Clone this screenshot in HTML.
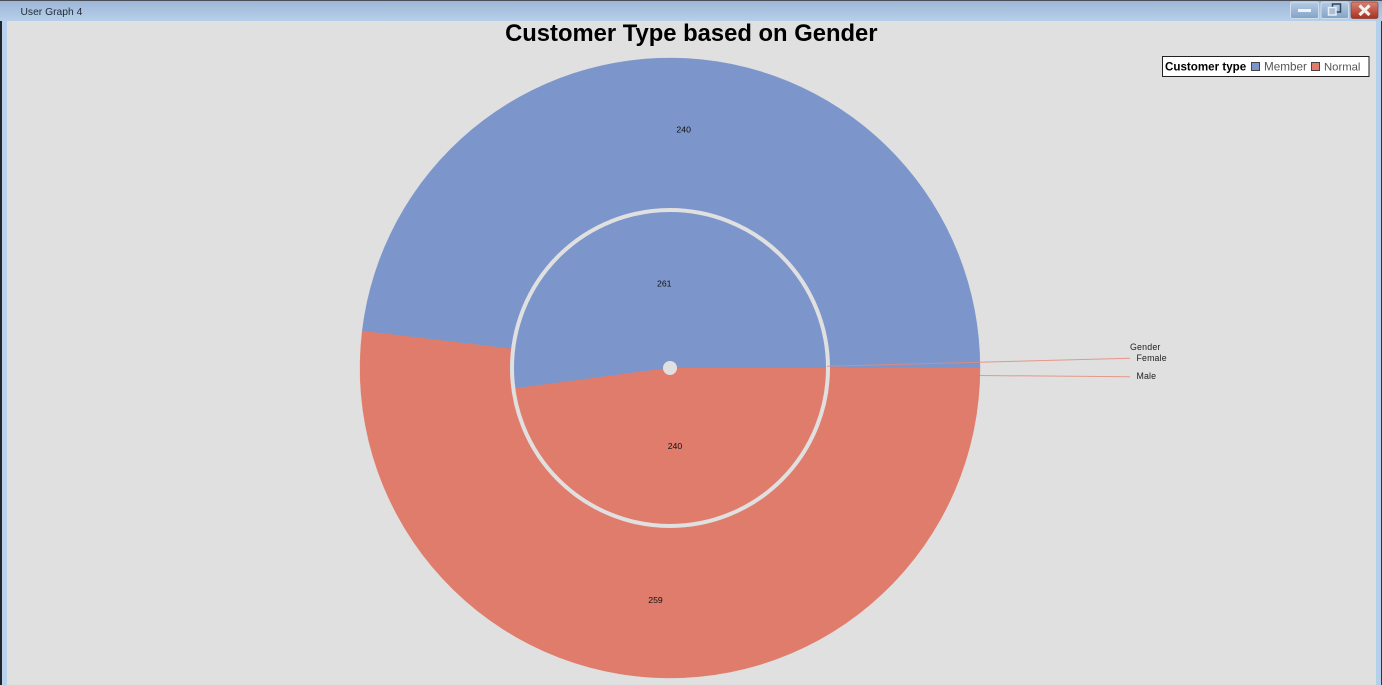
<!DOCTYPE html>
<html lang="en">
<head>
<meta charset="utf-8">
<title>User Graph 4</title>
<style>
html,body{margin:0;padding:0;width:1382px;height:685px;overflow:hidden;background:#e0e0e0;}
svg{display:block;font-family:"Liberation Sans",sans-serif;}
</style>
</head>
<body>
<svg id="chart" width="1382" height="685" viewBox="0 0 1382 685" xmlns="http://www.w3.org/2000/svg">
  <defs>
    <linearGradient id="barGrad" x1="0" y1="0" x2="0" y2="1">
      <stop offset="0" stop-color="#9cb5d6"/>
      <stop offset="1" stop-color="#b6d0ea"/>
    </linearGradient>
    <linearGradient id="btnGrad" x1="0" y1="0" x2="0" y2="1">
      <stop offset="0" stop-color="#b4cbe3"/>
      <stop offset="1" stop-color="#83a3c6"/>
    </linearGradient>
    <linearGradient id="closeGrad" x1="0" y1="0" x2="0" y2="1">
      <stop offset="0" stop-color="#d98272"/>
      <stop offset="1" stop-color="#a8301f"/>
    </linearGradient>
  </defs>

  <rect x="0" y="0" width="1382" height="685" fill="#e0e0e0"/>

  <rect x="0" y="21" width="2" height="664" fill="#22262b"/>
  <rect x="2" y="21" width="5" height="664" fill="#b9d3ee"/>
  <rect x="1376" y="21" width="5" height="664" fill="#b4d0ea"/>
  <rect x="1381" y="21" width="1" height="664" fill="#1c3a55"/>

  <rect x="0" y="0" width="1382" height="21" fill="url(#barGrad)"/>
  <rect x="0" y="0" width="1382" height="1" fill="#4a4f57"/>
  <text x="20.5" y="15" font-size="10.3" fill="#1e2a3a">User Graph 4</text>

  <g>
    <rect x="1290.5" y="2" width="28" height="16.5" rx="2" fill="url(#btnGrad)" stroke="#e2ebf4" stroke-opacity=".7"/>
    <rect x="1298" y="9" width="13" height="3" fill="#eef3f8"/>
  </g>
  <g>
    <rect x="1321" y="2" width="27.5" height="16.5" rx="2" fill="url(#btnGrad)" stroke="#e2ebf4" stroke-opacity=".7"/>
    <rect x="1332.5" y="4" width="8" height="8" fill="none" stroke="#33465c" stroke-width="1.5"/>
    <rect x="1328.5" y="7.5" width="7.5" height="7.5" fill="#a8c0da" stroke="#e8eef5" stroke-width="1.5"/>
  </g>
  <g>
    <rect x="1351" y="2" width="27" height="16.5" rx="2" fill="url(#closeGrad)" stroke="#8a3326" stroke-opacity=".6"/>
    <path d="M1359.5 5.5 L1369.5 15 M1369.5 5.5 L1359.5 15" stroke="#f3f0ee" stroke-width="3.2" fill="none"/>
  </g>

  <text x="691.3" y="41" font-size="23.8" font-weight="bold" text-anchor="middle" fill="#000">Customer Type based on Gender</text>

  <g id="plot"></g>

  <g>
    <rect x="1162.5" y="56.5" width="206.5" height="20" fill="#fff" stroke="#222" stroke-width="1"/>
    <text x="1165" y="70.5" font-size="11.6" font-weight="bold" fill="#000">Customer type</text>
    <rect x="1251.5" y="62.5" width="8" height="8" fill="#7c96cb" stroke="#444" stroke-width="1"/>
    <text x="1264" y="70.5" font-size="11.7" fill="#555">Member</text>
    <rect x="1311.5" y="62.5" width="8" height="8" fill="#e07c6b" stroke="#444" stroke-width="1"/>
    <text x="1324" y="70.5" font-size="11.3" fill="#555">Normal</text>
  </g>

  <text x="1130" y="350" font-size="8.8" letter-spacing=".2" fill="#222">Gender</text>
  <line x1="827" y1="366.3" x2="1130" y2="358.3" stroke="#e58a7b" stroke-opacity=".85" stroke-width="1"/>
  <text x="1136.5" y="361" font-size="8.8" letter-spacing=".15" fill="#222">Female</text>
  <line x1="980" y1="375.5" x2="1130" y2="376.8" stroke="#e58a7b" stroke-opacity=".85" stroke-width="1"/>
  <text x="1136.5" y="379" font-size="8.8" letter-spacing=".15" fill="#222">Male</text>
</svg>

<script>
const genders = ["Male", "Female"];
const customerTypes = ["Member", "Normal"];
const memberCounts = [240, 261];
const normalCounts = [259, 240];

const NS = "http://www.w3.org/2000/svg";
const plot = document.getElementById("plot");
const cx = 670, cy = 368;
const rings = [
  { inner: 159, outer: 310, labelR: 235.5 },
  { inner: 0, outer: 159, labelR: 81.5 }
];
const colors = ["#7c96cb", "#e07c6b"];

function angleScale(value, total) { return value / total * 2 * Math.PI; }
function px(r, a) { return cx + r * Math.cos(a); }
function py(r, a) { return cy - r * Math.sin(a); }

function slicePath(rIn, rOut, a0, a1) {
  const large = a1 - a0 > Math.PI ? 1 : 0;
  let d = "M" + px(rOut, a0) + " " + py(rOut, a0) +
    " A" + rOut + " " + rOut + " 0 " + large + " 0 " + px(rOut, a1) + " " + py(rOut, a1);
  if (rIn > 0) {
    d += " L" + px(rIn, a1) + " " + py(rIn, a1) +
      " A" + rIn + " " + rIn + " 0 " + large + " 1 " + px(rIn, a0) + " " + py(rIn, a0) + " Z";
  } else {
    d += " L" + cx + " " + cy + " Z";
  }
  return d;
}

genders.forEach(function (gender, g) {
  const ring = rings[g];
  const values = [memberCounts[g], normalCounts[g]];
  const total = values[0] + values[1];
  let start = 0;
  values.forEach(function (v, t) {
    const end = start + angleScale(v, total);
    const slice = document.createElementNS(NS, "path");
    slice.setAttribute("d", slicePath(ring.inner, ring.outer, start, end));
    slice.setAttribute("fill", colors[t]);
    slice.setAttribute("stroke", colors[t]);
    slice.setAttribute("stroke-width", "0.4");
    
    
    plot.appendChild(slice);
    start = end;
  });
});

const ringDivider = document.createElementNS(NS, "circle");
ringDivider.setAttribute("cx", cx);
ringDivider.setAttribute("cy", cy);
ringDivider.setAttribute("r", 158);
ringDivider.setAttribute("fill", "none");
ringDivider.setAttribute("stroke", "#e0e0e0");
ringDivider.setAttribute("stroke-width", "4");


plot.appendChild(ringDivider);

const centerDot = document.createElementNS(NS, "circle");
centerDot.setAttribute("cx", cx);
centerDot.setAttribute("cy", cy);
centerDot.setAttribute("r", 7);
centerDot.setAttribute("fill", "#e0e0e0");


plot.appendChild(centerDot);

genders.forEach(function (gender, g) {
  const ring = rings[g];
  const values = [memberCounts[g], normalCounts[g]];
  const total = values[0] + values[1];
  let start = 0;
  values.forEach(function (v, t) {
    const end = start + angleScale(v, total);
    const mid = (start + end) / 2;
    const label = document.createElementNS(NS, "text");
    label.setAttribute("x", px(ring.labelR, mid) - 0.4);
    label.setAttribute("y", py(ring.labelR, mid) - 0.2);
    label.setAttribute("font-size", "8.7");
    label.setAttribute("text-anchor", "middle");
    label.setAttribute("fill", "#111");
    
    
    label.textContent = String(v);
    plot.appendChild(label);
    start = end;
  });
});
</script>
</body>
</html>
